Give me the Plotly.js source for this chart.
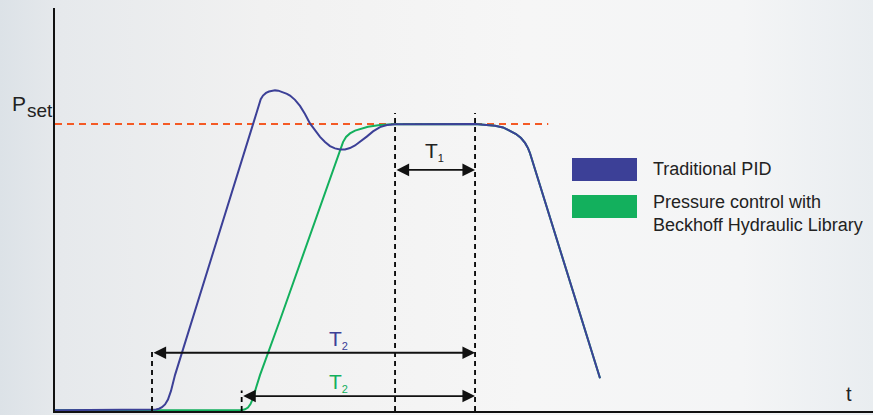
<!DOCTYPE html>
<html>
<head>
<meta charset="utf-8">
<script src="https://cdn.plot.ly/plotly-3.0.1.min.js"></script>
<style>
  html, body { margin: 0; padding: 0; overflow: hidden; }
  body {
    width: 873px; height: 415px;
    background: linear-gradient(90deg, #dce2e7 0%, #e6e9ec 7%, #f1f1f1 30%, #f6f6f6 60%, #f4f5f6 85%, #e9edf0 100%);
  }
  #grafico { width: 873px; height: 415px; }
</style>
</head>
<body>
<div id="grafico"></div>
<script>
// Pressure response: traditional PID vs. Beckhoff Hydraulic Library
// time in arbitrary units (0..100), pressure relative to Pset (Pset = 1)

const tPid = [0, 11.86, 12.35, 12.71, 13.08, 13.45, 13.81, 14.18, 14.67, 24.24, 25.15, 25.43, 25.8, 26.16,
  26.53, 26.9, 27.3, 27.63, 28.0, 28.36, 28.73, 29.34, 29.95, 30.56, 31.17, 31.79, 32.4, 33.01, 33.62,
  34.23, 34.84, 35.45, 36.06, 36.68, 37.29, 38.11, 38.88, 39.73, 40.59, 41.57, 51.35, 52.57, 53.79,
  54.77, 55.62, 56.36, 56.97, 57.46, 57.82, 58.07, 66.63];
const pPid = [0.003, 0.003, 0.005, 0.008, 0.013, 0.023, 0.040, 0.070, 0.125, 1.002, 1.086, 1.099, 1.108, 1.113,
  1.116, 1.117, 1.116, 1.113, 1.110, 1.105, 1.099, 1.084, 1.063, 1.035, 1.002, 0.976, 0.955, 0.937, 0.923,
  0.915, 0.911, 0.911, 0.916, 0.925, 0.937, 0.956, 0.974, 0.989, 0.996, 0.999, 1.0, 0.998, 0.994,
  0.988, 0.977, 0.965, 0.951, 0.934, 0.916, 0.898, 0.114];

const tBeck = [0, 22.82, 23.23, 23.59, 23.9, 24.2, 24.57, 25.06, 27.51, 34.84, 35.21, 35.58, 36.06, 36.68,
  37.29, 38.26, 39.73, 41.3, 51.35, 52.57, 53.79, 54.77, 55.62, 56.36, 56.97, 57.46, 57.82, 58.07, 66.63];
const pBeck = [0.003, 0.003, 0.006, 0.012, 0.024, 0.044, 0.080, 0.125, 0.317, 0.909, 0.937, 0.955, 0.967, 0.977,
  0.983, 0.990, 0.996, 0.999, 1.0, 0.998, 0.994, 0.988, 0.977, 0.965, 0.951, 0.934, 0.916, 0.898, 0.114];

const nomes = ["Traditional PID", "Pressure control with<br>Beckhoff Hydraulic Library"];
const cores = ["#3c4097", "#13b05d"];

const pSet = 1.0;
const tSetFim = 60.3;                // end of the dashed Pset line
const tInicioPid = 11.86;            // PID starts rising
const tInicioBeck = 22.82;           // Beckhoff starts rising
const tT1 = [41.57, 51.35];          // steady window T1

const W = 873, H = 415;
const margem = { l: 55, r: 0, t: 8, b: 4 };
const xMax = 100, yMax = 1.404;

// page pixel -> paper coordinates
function px(x) { return (x - margem.l) / (W - margem.l - margem.r); }
function py(y) { return (H - margem.b - y) / (H - margem.t - margem.b); }

const fonte = "Liberation Sans, Arial, sans-serif";

const data = [
  {
    x: tBeck, y: pBeck, type: "scatter", mode: "lines", name: nomes[1],
    line: { color: cores[1], width: 2 },
    hoverinfo: "skip"
  },
  {
    x: tPid, y: pPid, type: "scatter", mode: "lines", name: nomes[0],
    line: { color: cores[0], width: 2 },
    hoverinfo: "skip"
  }
];

const tracejado = { color: "#000", width: 1.8, dash: "5px,4px" };

const shapes = [
  { type: "line", xref: "x", yref: "y", x0: 0, x1: tSetFim, y0: pSet, y1: pSet,
    line: { color: "#f45a25", width: 2, dash: "7px,5px" }, layer: "below" },
  { type: "line", xref: "x", yref: "y", x0: tT1[0], x1: tT1[0], y0: 0, y1: 1.038, line: tracejado },
  { type: "line", xref: "x", yref: "y", x0: tT1[1], x1: tT1[1], y0: 0, y1: 1.038, line: tracejado },
  { type: "line", xref: "x", yref: "y", x0: tInicioPid, x1: tInicioPid, y0: 0, y1: 0.213, line: tracejado },
  { type: "line", xref: "x", yref: "y", x0: tInicioBeck, x1: tInicioBeck, y0: 0, y1: 0.071, line: tracejado },
  // legend swatches
  { type: "rect", xref: "paper", yref: "paper", x0: px(572), x1: px(637), y0: py(181), y1: py(158),
    fillcolor: cores[0], line: { width: 0 } },
  { type: "rect", xref: "paper", yref: "paper", x0: px(572), x1: px(637), y0: py(218), y1: py(195),
    fillcolor: cores[1], line: { width: 0 } }
];

function seta(x0, x1, y) {
  return {
    xref: "x", yref: "y", axref: "x", ayref: "y",
    x: x1, y: y, ax: x0, ay: y, text: "", showarrow: true,
    arrowhead: 2, arrowside: "end+start", arrowsize: 1.4, arrowwidth: 1.8,
    arrowcolor: "#111", standoff: 0, startstandoff: 0
  };
}

function rotuloT(texto, sub, x, y, cor) {
  return {
    xref: "x", yref: "y", x: x, y: y, showarrow: false,
    text: texto + "<sub><span style='font-size:11px'>" + sub + "</span></sub>",
    font: { family: fonte, size: 21, color: cor }
  };
}

const annotations = [
  seta(tT1[0], tT1[1], 0.840),
  seta(tInicioPid, tT1[1], 0.203),
  seta(tInicioBeck, tT1[1], 0.052),
  rotuloT("T", "1", 46.4, 0.905, "#222"),
  rotuloT("T", "2", 34.7, 0.250, cores[0]),
  rotuloT("T", "2", 34.7, 0.100, cores[1]),
  { xref: "paper", yref: "paper", x: px(28), y: py(103), xanchor: "right", yanchor: "middle",
    text: "P", showarrow: false, font: { family: fonte, size: 21, color: "#222" } },
  { xref: "paper", yref: "paper", x: px(25), y: py(111), xanchor: "left", yanchor: "middle",
    text: "set", showarrow: false, font: { family: fonte, size: 19, color: "#222" } },
  { xref: "paper", yref: "paper", x: px(849), y: py(394), xanchor: "center", yanchor: "middle",
    text: "t", showarrow: false, font: { family: fonte, size: 20, color: "#222" } },
  { xref: "paper", yref: "paper", x: px(651), y: py(169), xanchor: "left", yanchor: "middle",
    text: nomes[0], showarrow: false, align: "left", font: { family: fonte, size: 18, color: "#222" } },
  { xref: "paper", yref: "paper", x: px(651), y: py(214), xanchor: "left", yanchor: "middle",
    text: nomes[1], showarrow: false, align: "left", font: { family: fonte, size: 18, color: "#222" } },
  // arrow tip of the time axis
  { xref: "x", yref: "y", axref: "x", ayref: "y", x: xMax + 0.6, y: -0.002, ax: xMax - 2, ay: -0.002,
    text: "", showarrow: true, arrowhead: 2, arrowsize: 1.3, arrowwidth: 2, arrowcolor: "#111" }
];

const eixo = {
  showline: true, linecolor: "#111", linewidth: 2, mirror: false,
  showgrid: false, zeroline: false, showticklabels: false, ticks: "", fixedrange: true
};

const layout = {
  width: W, height: H,
  margin: margem,
  paper_bgcolor: "rgba(0,0,0,0)",
  plot_bgcolor: "rgba(0,0,0,0)",
  showlegend: false,
  xaxis: Object.assign({}, eixo, { range: [0, xMax] }),
  yaxis: Object.assign({}, eixo, { range: [0, yMax] }),
  shapes: shapes,
  annotations: annotations
};

Plotly.newPlot("grafico", data, layout, { displayModeBar: false, staticPlot: true });
</script>
</body>
</html>
